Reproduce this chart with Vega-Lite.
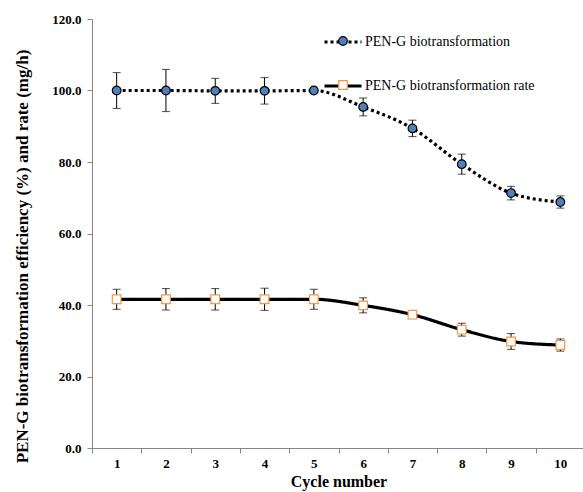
{
  "$schema": "https://vega.github.io/schema/vega-lite/v6.json",
  "width": 493,
  "height": 429,
  "autosize": {"type": "none"},
  "padding": {"left": 92, "top": 19, "right": 0, "bottom": 44},
  "background": "white",
  "config": {
    "view": {"stroke": null},
    "font": "'Liberation Serif', 'Times New Roman', serif",
    "axis": {
      "grid": false,
      "domainColor": "#868686",
      "tickColor": "#868686",
      "labelFont": "'Liberation Serif', 'Times New Roman', serif",
      "titleFont": "'Liberation Serif', 'Times New Roman', serif",
      "labelFontWeight": "bold",
      "titleFontWeight": "bold",
      "labelColor": "black",
      "titleColor": "black"
    },
    "legend": {
      "labelFont": "'Liberation Serif', 'Times New Roman', serif",
      "labelLimit": 400
    }
  },
  "data": {
    "values": [
      {"cycle": 1, "series": "PEN-G biotransformation", "value": 100.0, "err": 5.0},
      {"cycle": 2, "series": "PEN-G biotransformation", "value": 100.0, "err": 5.9},
      {"cycle": 3, "series": "PEN-G biotransformation", "value": 99.9, "err": 3.5},
      {"cycle": 4, "series": "PEN-G biotransformation", "value": 99.9, "err": 3.7},
      {"cycle": 5, "series": "PEN-G biotransformation", "value": 100.0, "err": 0.3},
      {"cycle": 6, "series": "PEN-G biotransformation", "value": 95.4, "err": 2.5},
      {"cycle": 7, "series": "PEN-G biotransformation", "value": 89.4, "err": 2.3},
      {"cycle": 8, "series": "PEN-G biotransformation", "value": 79.4, "err": 2.8},
      {"cycle": 9, "series": "PEN-G biotransformation", "value": 71.3, "err": 1.9},
      {"cycle": 10, "series": "PEN-G biotransformation", "value": 68.8, "err": 1.7},
      {"cycle": 1, "series": "PEN-G biotransformation rate", "value": 41.6, "err": 2.8},
      {"cycle": 2, "series": "PEN-G biotransformation rate", "value": 41.6, "err": 3.0},
      {"cycle": 3, "series": "PEN-G biotransformation rate", "value": 41.6, "err": 3.0},
      {"cycle": 4, "series": "PEN-G biotransformation rate", "value": 41.6, "err": 3.1},
      {"cycle": 5, "series": "PEN-G biotransformation rate", "value": 41.6, "err": 2.8},
      {"cycle": 6, "series": "PEN-G biotransformation rate", "value": 39.9, "err": 2.1},
      {"cycle": 7, "series": "PEN-G biotransformation rate", "value": 37.3, "err": 1.1},
      {"cycle": 8, "series": "PEN-G biotransformation rate", "value": 33.1, "err": 1.8},
      {"cycle": 9, "series": "PEN-G biotransformation rate", "value": 29.8, "err": 2.2},
      {"cycle": 10, "series": "PEN-G biotransformation rate", "value": 28.8, "err": 1.7}
    ]
  },
  "layer": [
    {
      "mark": {"type": "line", "interpolate": "monotone", "color": "black", "strokeWidth": 3.2},
      "encoding": {
        "x": {
          "field": "cycle", "type": "ordinal", "title": "Cycle number",
          "scale": {"type": "band", "paddingInner": 0, "paddingOuter": 0},
          "axis": {
            "titleFontSize": 16, "labelFontSize": 13, "labelAngle": 0,
            "tickSize": 5, "tickBand": "extent", "labelPadding": 4, "titlePadding": 3
          }
        },
        "y": {
          "field": "value", "type": "quantitative",
          "title": "PEN-G biotransformation efficiency (%) and rate (mg/h)",
          "scale": {"domain": [0, 120], "nice": false},
          "axis": {
            "titleFontSize": 17, "labelFontSize": 13, "tickSize": 5, "labelPadding": 6,
            "values": [0, 20, 40, 60, 80, 100, 120], "format": ".1f", "titlePadding": 20,
            "titleY": 237
          }
        },
        "strokeDash": {
          "field": "series", "type": "nominal",
          "scale": {"domain": ["PEN-G biotransformation", "PEN-G biotransformation rate"], "range": [[3, 3], [1, 0]]},
          "legend": {
            "title": null, "orient": "none", "legendX": 231, "legendY": 3,
            "symbolType": "stroke", "symbolSize": 1369, "symbolStrokeWidth": 3, "symbolStrokeColor": "black",
            "labelFontSize": 14, "labelColor": "black", "labelOffset": 2, "labelLimit": 400,
            "rowPadding": 17
          }
        }
      }
    },
    {
      "mark": {"type": "errorbar", "ticks": {"size": 8, "color": "black"}, "rule": {"color": "black", "strokeWidth": 1}},
      "encoding": {
        "x": {"field": "cycle", "type": "ordinal", "title": "Cycle number", "scale": {"type": "band", "paddingInner": 0, "paddingOuter": 0}},
        "y": {"field": "value", "type": "quantitative", "title": "PEN-G biotransformation efficiency (%) and rate (mg/h)"},
        "yError": {"field": "err"}
      }
    },
    {
      "mark": {"type": "point", "filled": true, "size": 75, "strokeWidth": 1.2, "opacity": 1},
      "encoding": {
        "x": {"field": "cycle", "type": "ordinal", "title": "Cycle number", "scale": {"type": "band", "paddingInner": 0, "paddingOuter": 0}},
        "y": {"field": "value", "type": "quantitative", "title": "PEN-G biotransformation efficiency (%) and rate (mg/h)"},
        "shape": {
          "field": "series", "type": "nominal",
          "scale": {"range": ["circle", "square"]},
          "legend": {"title": null, "orient": "none", "legendX": 244, "legendY": 15, "symbolSize": 75, "symbolStrokeWidth": 1.2, "labelFontSize": 14, "labelExpr": "''", "rowPadding": 30}
        },
        "fill": {
          "field": "series", "type": "nominal",
          "scale": {"range": ["#4f81bd", "#ffffff"]},
          "legend": {"title": null, "orient": "none", "legendX": 244, "legendY": 15, "symbolSize": 75, "symbolStrokeWidth": 1.2, "labelFontSize": 14, "labelExpr": "''", "rowPadding": 30}
        },
        "stroke": {
          "field": "series", "type": "nominal",
          "scale": {"range": ["#000000", "#f79646"]},
          "legend": {"title": null, "orient": "none", "legendX": 244, "legendY": 15, "symbolSize": 75, "symbolStrokeWidth": 1.2, "labelFontSize": 14, "labelExpr": "''", "rowPadding": 30}
        }
      }
    }
  ]
}
